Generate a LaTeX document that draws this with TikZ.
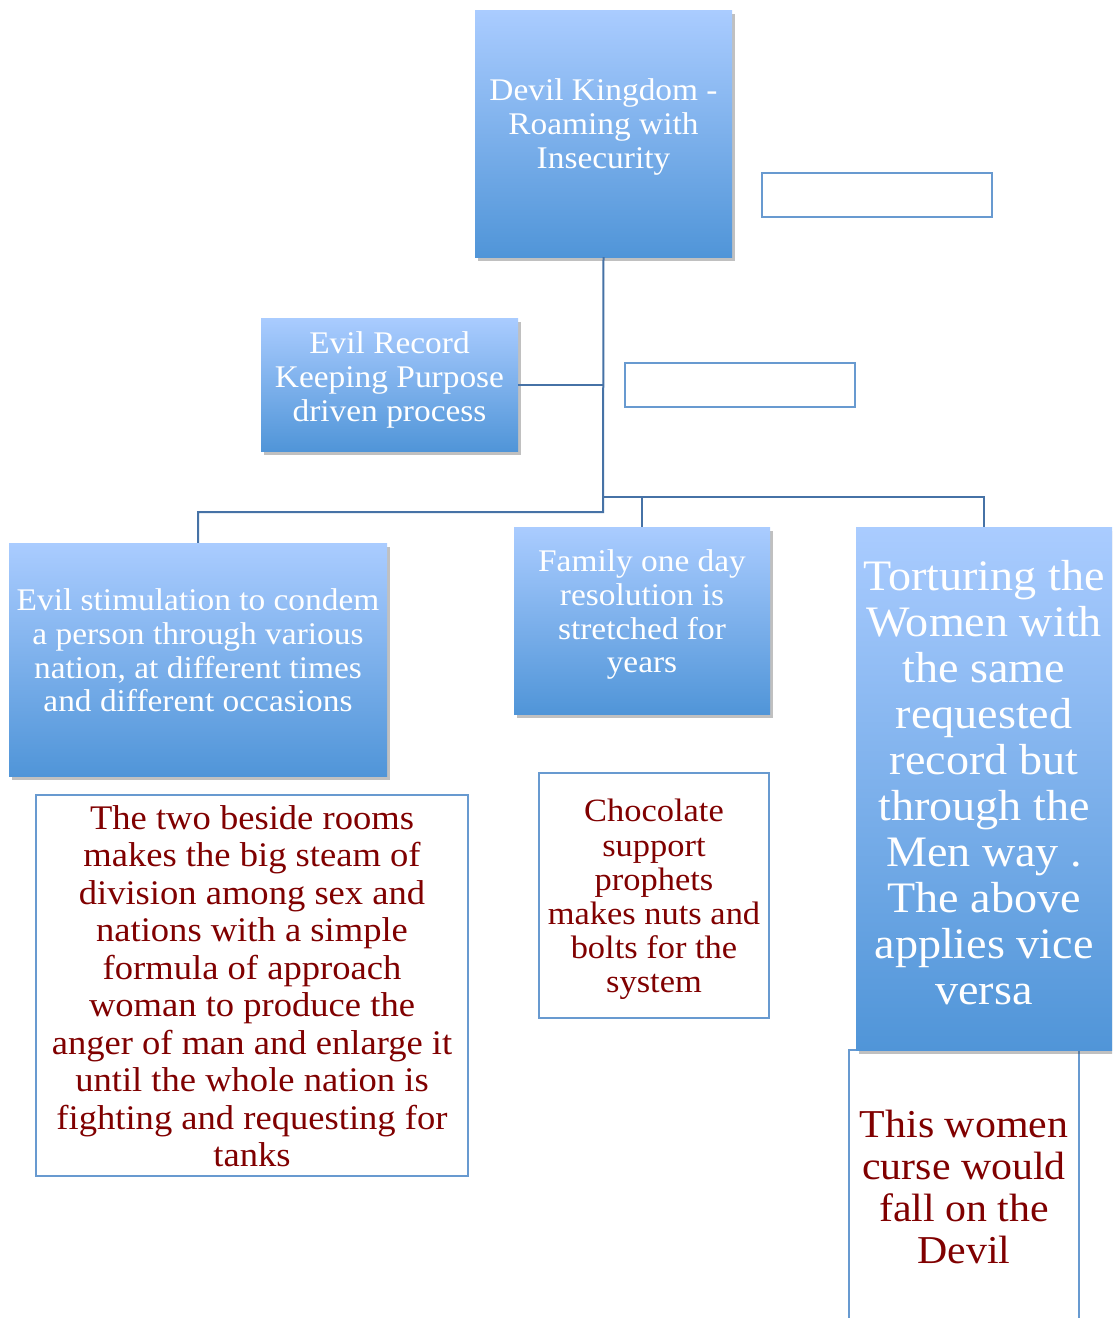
\documentclass[tikz,border=0pt]{standalone}
\usepackage{fontspec}
\setmainfont[FakeStretch=1.06]{Liberation Serif}
\usetikzlibrary{shadows}
\definecolor{gtop}{RGB}{170,204,255}
\definecolor{gbot}{RGB}{80,149,216}
\definecolor{conn}{RGB}{70,114,166}
\definecolor{frame}{RGB}{104,154,208}
\definecolor{darkred}{RGB}{128,0,0}
\newcommand{\liftlines}[2]{\raisebox{#1}[\height][\depth]{\begin{tabular}{@{}c@{}}#2\end{tabular}}}
\tikzset{
  bluebox/.style={rectangle, top color=gtop, bottom color=gbot, draw=none, text=white,
    align=center, inner sep=0pt,
    drop shadow={shadow xshift=3pt, shadow yshift=-4pt, opacity=0.35, fill=black!70}},
  framebox/.style={rectangle, draw=frame, line width=1.6pt, fill=white, inner sep=0pt},
  redbox/.style={framebox, text=darkred, align=center},
  conn/.style={draw=conn, line width=2pt},
  fsA/.style={font=\fontsize{31.5}{33.8}\selectfont},
  fsB/.style={font=\fontsize{43.5}{46}\selectfont},
  fsC/.style={font=\fontsize{34.5}{37.5}\selectfont},
  fsD/.style={font=\fontsize{32.5}{34.2}\selectfont},
  fsE/.style={font=\fontsize{39.5}{42.3}\selectfont},
}
\begin{document}
\begin{tikzpicture}[x=1pt,y=-1pt]
\useasboundingbox (0,0) rectangle (1112,1318);
\clip (0,0) rectangle (1112,1318);
\fill[white] (0,0) rectangle (1112,1318);
\coordinate (jA) at (603,497);
\coordinate (jB) at (603,512);
% boxes
\node[bluebox, fsA, minimum width=257pt, minimum height=247pt] (top) at (603.5,133.5)
  {\liftlines{6pt}{Devil Kingdom -\\Roaming with\\Insecurity}};
\node[framebox, minimum width=230pt, minimum height=44pt] (empty1) at (877,195) {};
\node[bluebox, fsA, minimum width=257pt, minimum height=133pt] (evil) at (389.5,384.5)
  {\liftlines{4pt}{Evil Record\\Keeping Purpose\\driven process}};
\node[framebox, minimum width=230pt, minimum height=44pt] (empty2) at (740,385) {};
\node[bluebox, fsA, minimum width=378pt, minimum height=233pt] (left) at (198,659.5)
  {\liftlines{5pt}{Evil stimulation to condem\\a person through various\\nation, at different times\\and different occasions}};
\node[bluebox, fsA, minimum width=256pt, minimum height=187pt] (family) at (642,620.5)
  {\liftlines{5pt}{Family one day\\resolution is\\stretched for\\years}};
\node[redbox, fsE, minimum width=230pt, minimum height=276pt] (curse) at (964,1188)
  {\liftlines{-4pt}{This women\\curse would\\fall on the\\Devil}};
\node[bluebox, fsB, minimum width=256pt, minimum height=523pt] (torture) at (984,788.5)
  {\liftlines{0pt}{Torturing the\\Women with\\the same\\requested\\record but\\through the\\Men way .\\The above\\applies vice\\versa}};
\node[redbox, fsC, minimum width=432pt, minimum height=381pt] (rooms) at (252,985.5)
  {\liftlines{-5pt}{The two beside rooms\\makes the big steam of\\division among sex and\\nations with a simple\\formula of approach\\woman to produce the\\anger of man and enlarge it\\until the whole nation is\\fighting and requesting for\\tanks}};
\node[redbox, fsD, minimum width=230pt, minimum height=245pt] (choc) at (654,895.5)
  {\liftlines{-5pt}{Chocolate\\support\\prophets\\makes nuts and\\bolts for the\\system}};
% connectors
\draw[conn] (top.south) -- (jB) -| (left.north);
\draw[conn] (evil.east) -- (evil.east -| top.south);
\draw[conn] (jA) -| (torture.north);
\draw[conn] (jA -| family.north) -- (family.north);
\end{tikzpicture}
\end{document}
